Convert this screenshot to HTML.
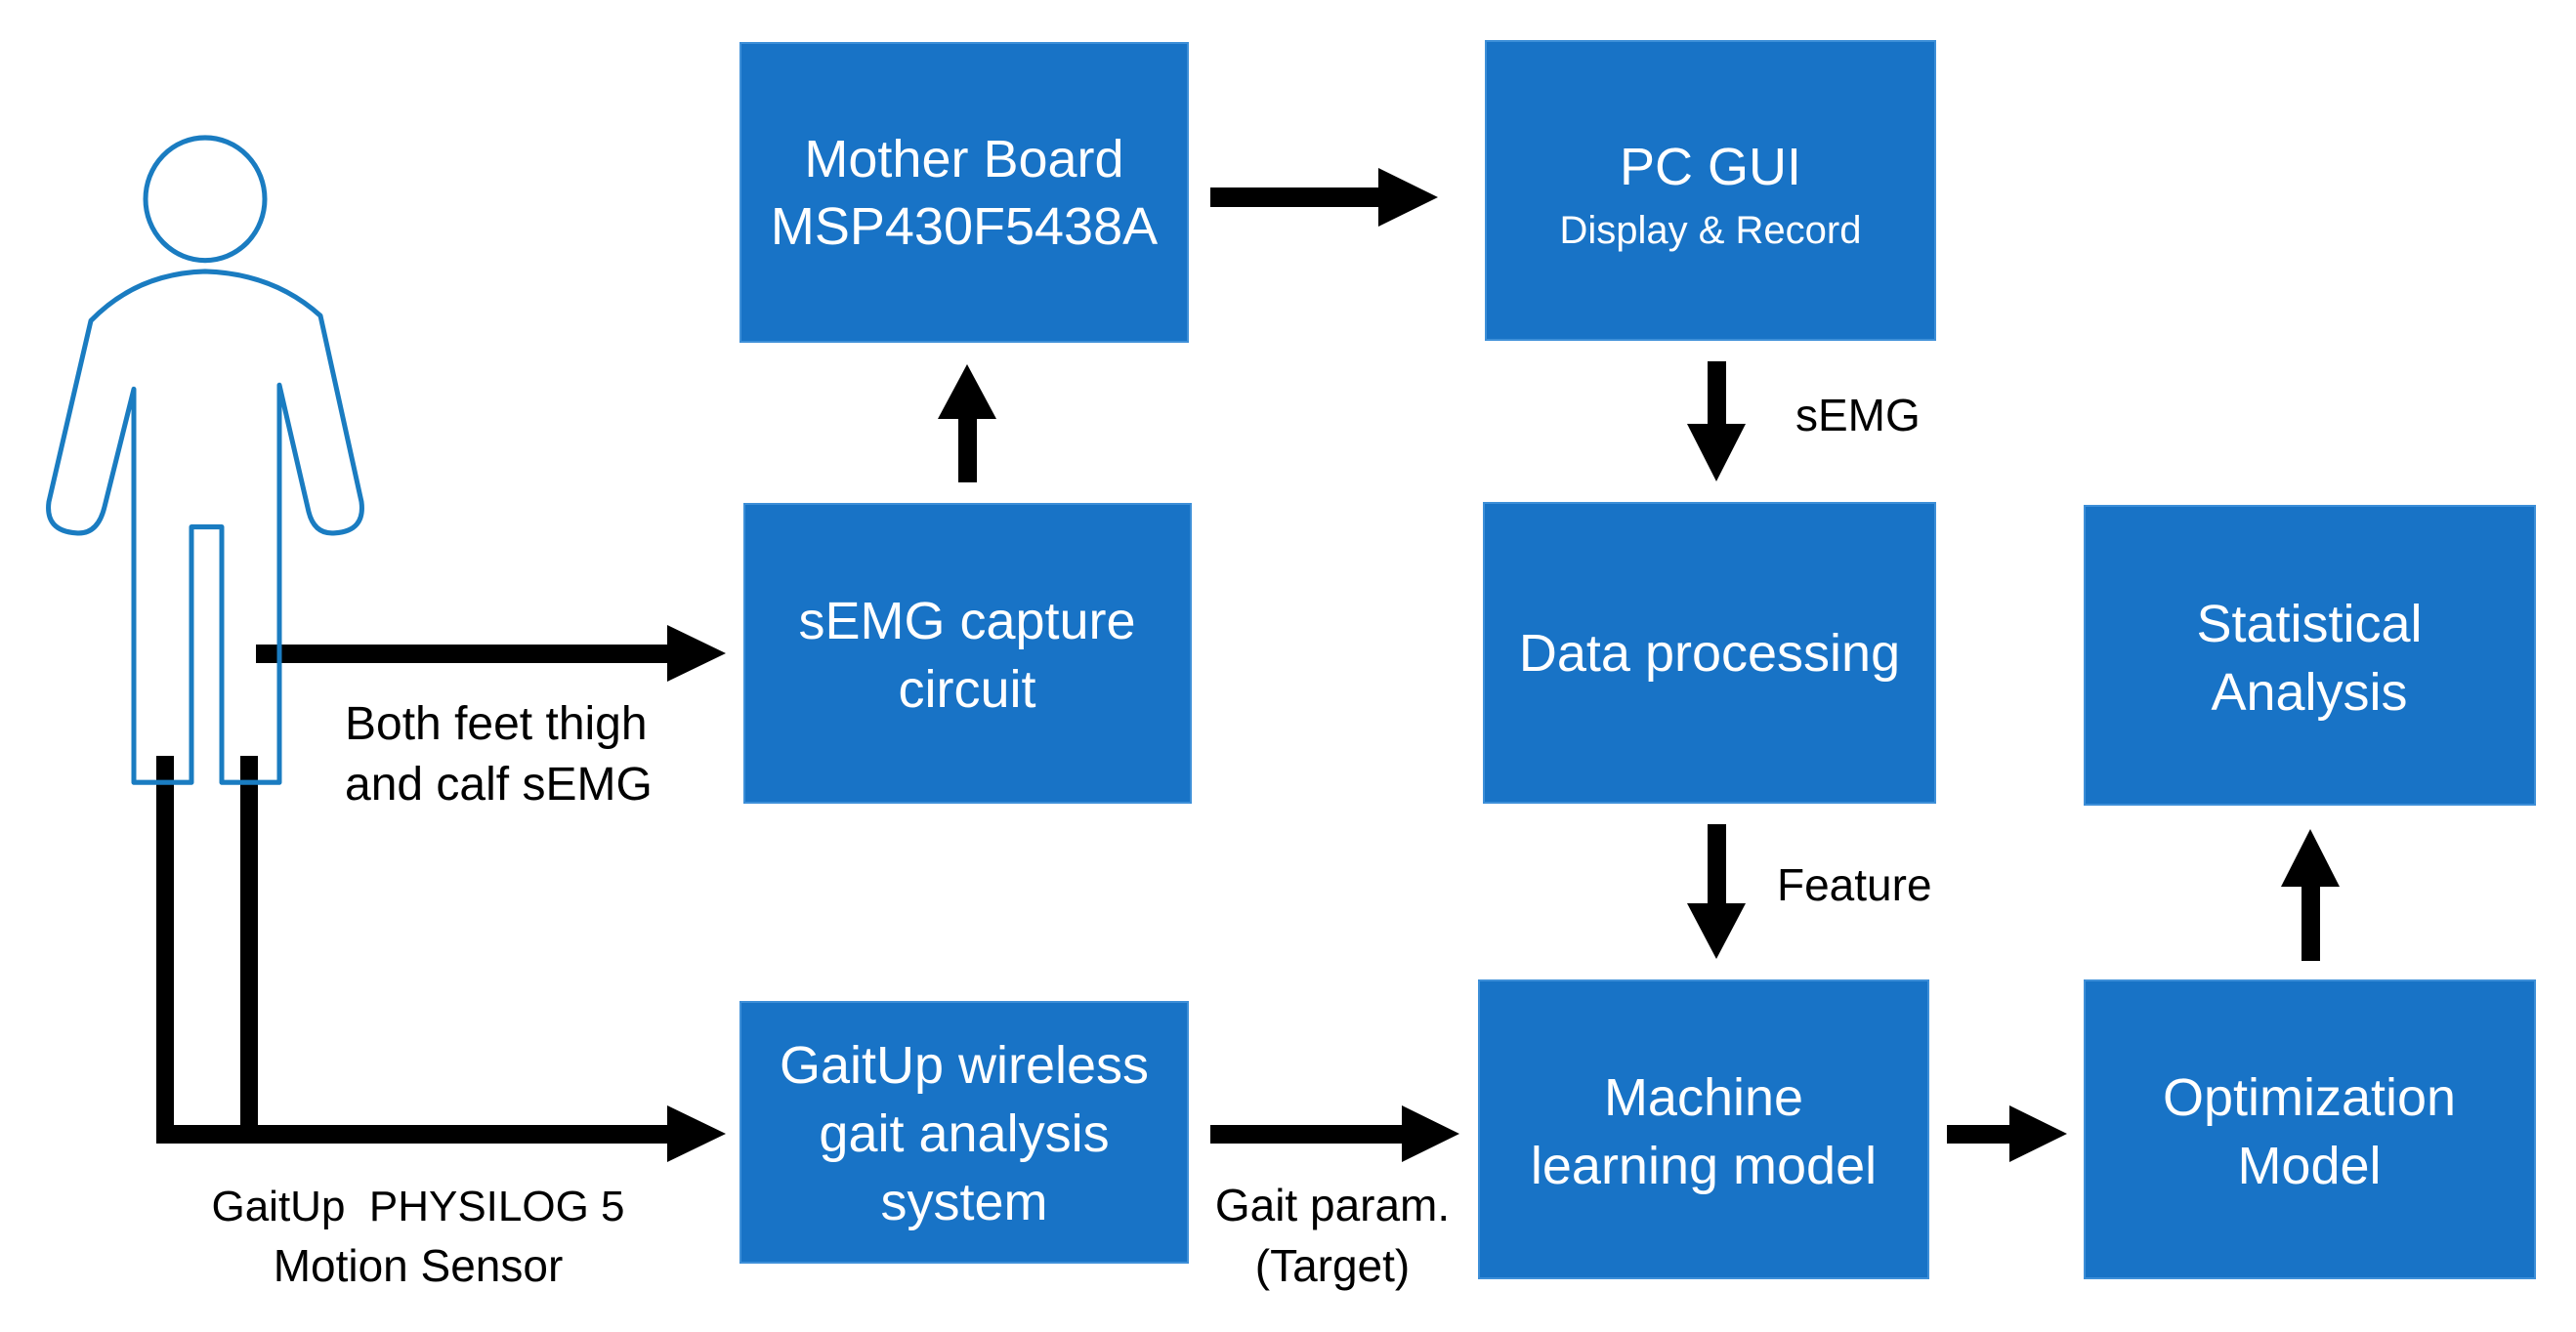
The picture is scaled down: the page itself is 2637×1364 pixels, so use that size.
<!DOCTYPE html>
<html><head><meta charset="utf-8"><style>
html,body{margin:0;padding:0;background:#fff;}
svg{display:block;}
text{font-family:"Liberation Sans",sans-serif;}
.bt{fill:#fff;font-size:54px;text-anchor:middle;}
.lb{fill:#000;font-size:46px;}
</style></head><body>
<svg width="2637" height="1364" viewBox="0 0 2637 1364" xmlns="http://www.w3.org/2000/svg">
<g fill="#1873c6" stroke="#3d8fd8" stroke-width="2">
<rect x="758" y="44" width="458" height="306"/>
<rect x="1521" y="42" width="460" height="306"/>
<rect x="762" y="516" width="457" height="306"/>
<rect x="1519" y="515" width="462" height="307"/>
<rect x="2134" y="518" width="461" height="306"/>
<rect x="758" y="1026" width="458" height="267"/>
<rect x="1514" y="1004" width="460" height="305"/>
<rect x="2134" y="1004" width="461" height="305"/>
</g>
<text class="bt" x="987" y="181">Mother Board</text>
<text class="bt" x="987" y="250">MSP430F5438A</text>
<text class="bt" x="1751" y="189">PC GUI</text>
<text class="bt" x="1751" y="249" style="font-size:40px">Display &amp; Record</text>
<text class="bt" x="990" y="654">sEMG capture</text>
<text class="bt" x="990" y="724">circuit</text>
<text class="bt" x="1750" y="687">Data processing</text>
<text class="bt" x="2364" y="657">Statistical</text>
<text class="bt" x="2364" y="727">Analysis</text>
<text class="bt" x="987" y="1109">GaitUp wireless</text>
<text class="bt" x="987" y="1179">gait analysis</text>
<text class="bt" x="987" y="1249">system</text>
<text class="bt" x="1744" y="1142">Machine</text>
<text class="bt" x="1744" y="1212">learning model</text>
<text class="bt" x="2364" y="1142">Optimization</text>
<text class="bt" x="2364" y="1212">Model</text>

<g fill="#000">
<rect x="1239" y="192" width="175" height="20"/>
<polygon points="1411,172 1472,202 1411,232"/>
<rect x="981" y="425" width="19" height="69"/>
<polygon points="960,429 990,373 1020,429"/>
<rect x="1748" y="370" width="19" height="68"/>
<polygon points="1727,434 1757,493 1787,434"/>
<rect x="1748" y="844" width="19" height="85"/>
<polygon points="1727,925 1757,982 1787,925"/>
<rect x="262" y="660" width="424" height="19"/>
<polygon points="683,640 743,669 683,698"/>
<rect x="160" y="774" width="18" height="396"/>
<rect x="246" y="774" width="18" height="396"/>
<rect x="160" y="1152" width="526" height="19"/>
<polygon points="683,1132 743,1161 683,1190"/>
<rect x="1239" y="1152" width="199" height="19"/>
<polygon points="1435,1132 1494,1161 1435,1190"/>
<rect x="1993" y="1152" width="67" height="19"/>
<polygon points="2057,1132 2116,1161 2057,1190"/>
<rect x="2356" y="904" width="19" height="80"/>
<polygon points="2335,908 2365,849 2395,908"/>
</g>

<text class="lb" x="1838" y="441">sEMG</text>
<text class="lb" x="1819" y="922">Feature</text>
<text class="lb" x="353" y="757" style="font-size:48px">Both feet thigh</text>
<text class="lb" x="353" y="819" style="font-size:48px">and calf sEMG</text>
<text class="lb" x="428" y="1250" text-anchor="middle" xml:space="preserve" style="font-size:44px">GaitUp  PHYSILOG 5</text>
<text class="lb" x="428" y="1312" text-anchor="middle">Motion Sensor</text>
<text class="lb" x="1364" y="1250" text-anchor="middle">Gait param.</text>
<text class="lb" x="1364" y="1312" text-anchor="middle">(Target)</text>

<g fill="none" stroke="#1a7cc1" stroke-width="5" stroke-linejoin="round" transform="translate(0,4) scale(1,1.03)">
<circle cx="210" cy="194" r="61"/>
<path d="M137,774 L137,383 L107,500 Q100,528 78,526 Q46,524 50,495 L93,315 Q140,268 210,266 Q280,268 328,310 L370,495 Q374,524 343,526 Q322,528 316,505 L286,379 L286,774 L227,774 L227,520 L196,520 L196,774 Z"/>
</g>
</svg>
</body></html>
